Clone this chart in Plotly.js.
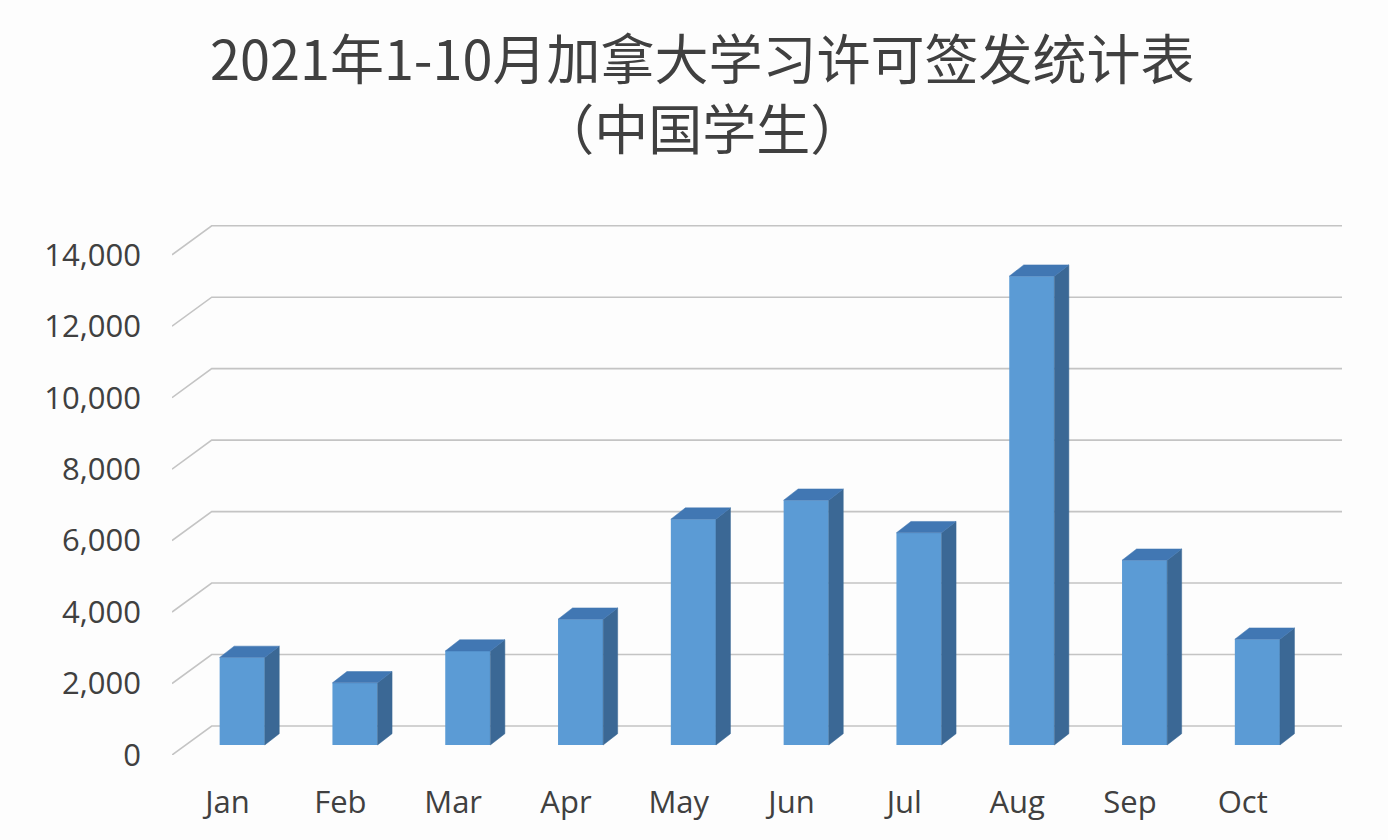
<!DOCTYPE html>
<html>
<head>
<meta charset="utf-8">
<script src="https://cdn.plot.ly/plotly-3.0.1.min.js"></script>
<style>
  html, body { margin: 0; padding: 0; background: #fdfdfd; }
  #chart { width: 1388px; height: 840px; }
</style>
</head>
<body>
<div id="chart"></div>
<script>
/* 2021年1-10月 加拿大学习许可签发（中国学生）— 仿 Excel 立体柱形图 */

var months  = ['Jan', 'Feb', 'Mar', 'Apr', 'May', 'Jun', 'Jul', 'Aug', 'Sep', 'Oct'];
var permits = [2450, 1740, 2630, 3520, 6320, 6850, 5940, 13120, 5170, 2960];
var yTicks  = [0, 2000, 4000, 6000, 8000, 10000, 12000, 14000];

(function () {
  var C = {
    front: '#5b9bd5',
    top:   '#4177b3',
    side:  '#3b6895',
    grid:  '#c4c4c4',
    text:  '#404040',
    bg:    '#fdfdfd'
  };

  /* ---- geometria em pixels (plot area 172..1342 x 219..755) ---- */
  var W = 1388, H = 840;
  var M = { l: 172, r: 46, t: 219, b: 85 };
  var plotW = W - M.l - M.r, plotH = H - M.t - M.b;
  var yMax = 15000;
  var pxPerY = plotH / yMax;
  var step = 112.8;                       // px entre colunas
  var firstCenter = 242.2;                // centro da 1a coluna (px)
  var xMin = (M.l - firstCenter) / step;
  var xMax = xMin + plotW / step;
  var toY = function (px) { return px / pxPerY; };
  var toX = function (px) { return px / step; };

  var barW   = 0.4;                       // largura da face frontal
  var lift   = toY(10);                   // colunas ficam um pouco atrás da borda do piso
  var depthX = toX(14.5), depthY = toY(11.3);
  var wallX  = toX(39.7), wallY  = toY(29);

  var idx = months.map(function (m, i) { return i; });

  /* grades em perspectiva: diagonal na parede lateral + horizontal no fundo */
  var gridShapes = yTicks.map(function (v) {
    return {
      type: 'path', layer: 'below', xref: 'x', yref: 'y',
      path: 'M' + xMin + ',' + v + ' L' + (xMin + wallX) + ',' + (v + wallY) +
            ' L' + xMax + ',' + (v + wallY),
      line: { color: C.grid, width: 1.6 }
    };
  });

  /* faces laterais e superiores (polígonos separados por null) */
  var sideX = [], sideY = [], topX = [], topY = [];
  permits.forEach(function (v, i) {
    var l = i - barW / 2, r = i + barW / 2, b = lift, t = lift + v;
    sideX.push(r, r + depthX, r + depthX, r, r, null);
    sideY.push(b, b + depthY, t + depthY, t, b, null);
    topX.push(l, l + depthX, r + depthX, r, l, null);
    topY.push(t, t + depthY, t + depthY, t, t, null);
  });

  var traces = [
    {
      type: 'bar', x: idx, y: permits, base: lift, width: barW,
      marker: { color: C.front, line: { width: 0 } },
      hovertemplate: '%{y:,}<extra></extra>'
    },
    {
      type: 'scatter', mode: 'lines', x: sideX, y: sideY, fill: 'toself',
      fillcolor: C.side, line: { color: C.side, width: 0.5 }, hoverinfo: 'skip'
    },
    {
      type: 'scatter', mode: 'lines', x: topX, y: topY, fill: 'toself',
      fillcolor: C.top, line: { color: C.top, width: 0.5 }, hoverinfo: 'skip'
    }
  ];

  var tickFont = { family: 'Open Sans, sans-serif', size: 31, color: C.text };
  var titleFont = { family: 'Noto Sans CJK SC, sans-serif', size: 54, color: C.text };

  var layout = {
    width: W, height: H,
    paper_bgcolor: C.bg, plot_bgcolor: C.bg,
    margin: M,
    showlegend: false,
    xaxis: {
      range: [xMin, xMax],
      tickvals: idx.map(function (i) { return i - 0.13; }),
      ticktext: months,
      showgrid: false, zeroline: false, showline: false, ticks: '',
      ticklabelstandoff: 26,
      tickfont: tickFont, fixedrange: true
    },
    yaxis: {
      range: [0, yMax],
      tickvals: yTicks, tickformat: ',',
      showgrid: false, zeroline: false, showline: false, ticks: '',
      ticklabelstandoff: 30,
      tickfont: tickFont, fixedrange: true
    },
    shapes: gridShapes,
    annotations: [{
      text: '2021年1-10月加拿大学习许可签发统计表<br>（中国学生）',
      xref: 'paper', yref: 'paper',
      x: (702 - M.l) / plotW, y: (M.t + plotH - 91) / plotH,
      xanchor: 'center', yanchor: 'middle', align: 'center',
      showarrow: false, font: titleFont
    }]
  };

  Plotly.newPlot('chart', traces, layout, { displayModeBar: false, staticPlot: true });
})();
</script>
</body>
</html>
